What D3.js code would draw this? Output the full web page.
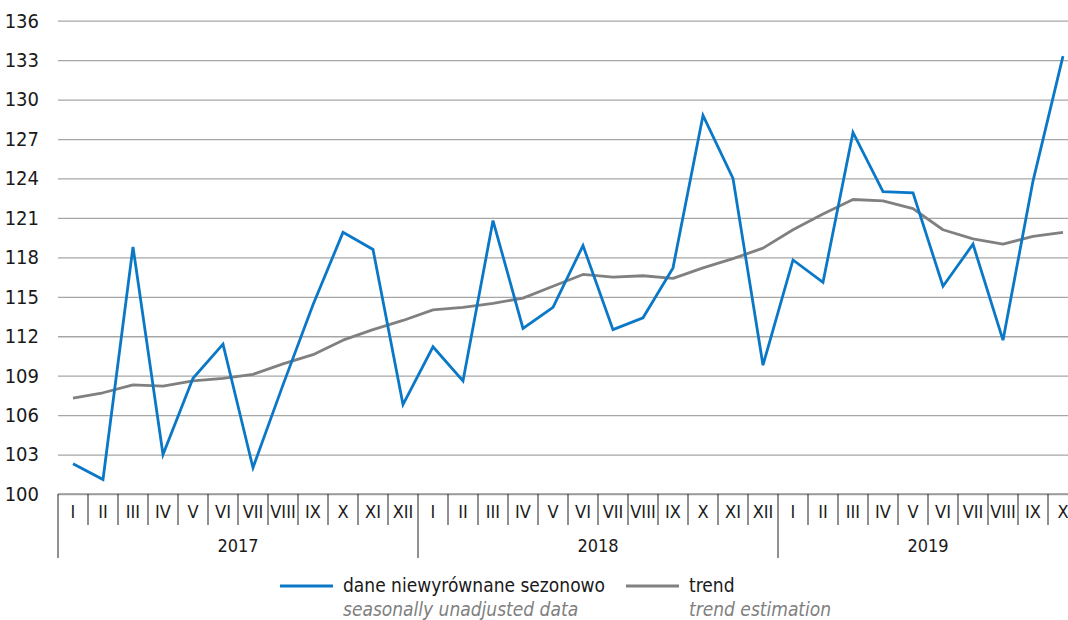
<!DOCTYPE html>
<html lang="pl">
<head>
<meta charset="utf-8">
<title>dane niewyrównane sezonowo / trend</title>
<script src="https://d3js.org/d3.v7.min.js"></script>
<style>
  body { margin: 0; background: #fff; }
  text { font-family: "Liberation Sans Narrow", "DejaVu Sans Condensed", "Liberation Sans", sans-serif; fill: #1a1a1a; }
  .grid line { stroke: #a6a6a6; stroke-width: 1.3; }
  .grid .domain { display: none; }
  .legend-en { fill: #808080; font-style: italic; }
</style>
</head>
<body>
<div id="chart"></div>
<script>

var years = ["2017", "2018", "2019"];
var months = ["I", "II", "III", "IV", "V", "VI", "VII", "VIII", "IX", "X", "XI", "XII"];
var monthsPerYear = [12, 12, 10];
var yTicks = [100, 103, 106, 109, 112, 115, 118, 121, 124, 127, 130, 133, 136];

// dane niewyrównane sezonowo (seasonally unadjusted data)
var unadjusted = [102.3, 101.1, 118.8, 103.0, 108.8, 111.4, 102.0, 108.3, 114.4, 119.9, 118.6, 106.8,
                  111.2, 108.6, 120.8, 112.6, 114.2, 118.9, 112.5, 113.4, 117.2, 128.8, 124.0, 109.8,
                  117.8, 116.1, 127.5, 123.0, 122.9, 115.8, 119.0, 111.7, 123.8, 133.3];
// trend
var trend = [107.3, 107.7, 108.3, 108.2, 108.6, 108.8, 109.1, 109.9, 110.6, 111.7, 112.5, 113.2,
             114.0, 114.2, 114.5, 114.9, 115.8, 116.7, 116.5, 116.6, 116.4, 117.2, 117.9, 118.7,
             120.1, 121.3, 122.4, 122.3, 121.7, 120.1, 119.4, 119.0, 119.6, 119.9];

var w = 1068, h = 620;
var left = 58, bandW = 30, base = 494, plotTop = 20.7;

// build category list (year, month) from the arrays above
var cats = [];
years.forEach(function(yr, j) {
  for (var m = 0; m < monthsPerYear[j]; m++) cats.push({ year: yr, month: months[m], idx: cats.length });
});

var svg = d3.select("#chart").append("svg")
  .attr("width", w)
  .attr("height", h);

var x = d3.scaleBand()
  .domain(cats.map(function(d) { return d.idx; }))
  .range([left, left + bandW * cats.length])
  .paddingInner(0).paddingOuter(0);

var y = d3.scaleLinear()
  .domain([100, 136])
  .range([base, plotTop]);

// gridlines + y labels
var grid = svg.append("g")
  .attr("class", "grid")
  .attr("transform", "translate(" + left + ",0)")
  .call(d3.axisLeft(y).tickValues(yTicks).tickSize(-(w - left)).tickPadding(19).tickFormat(d3.format("d")));
grid.selectAll("text").style("font-size", "20px").attr("fill", "#1a1a1a");

// bottom axis: month separators, year separators
var axis = svg.append("g").attr("class", "xaxis");
axis.append("line")
  .attr("x1", left).attr("x2", w)
  .attr("y1", base).attr("y2", base)
  .attr("stroke", "#999").attr("stroke-width", 1.5);

axis.selectAll(".mtick")
  .data(cats)
  .enter().append("line")
  .attr("class", "mtick")
  .attr("x1", function(d) { return x(d.idx); })
  .attr("x2", function(d) { return x(d.idx); })
  .attr("y1", base)
  .attr("y2", function(d) { return d.month === "I" ? 558 : 525; })
  .attr("stroke", "#222").attr("stroke-width", 1);

axis.selectAll(".mlabel")
  .data(cats)
  .enter().append("text")
  .attr("class", "mlabel")
  .attr("x", function(d) { return x(d.idx) + x.bandwidth() / 2; })
  .attr("y", 518)
  .attr("text-anchor", "middle")
  .style("font-size", "18px")
  .text(function(d) { return d.month; });

var yearSpans = years.map(function(yr) {
  var c = cats.filter(function(d) { return d.year === yr; });
  return { year: yr, x0: x(c[0].idx), x1: x(c[c.length - 1].idx) + x.bandwidth() };
});
axis.selectAll(".ylabel")
  .data(yearSpans)
  .enter().append("text")
  .attr("class", "ylabel")
  .attr("x", function(d) { return (d.x0 + d.x1) / 2; })
  .attr("y", 552)
  .attr("text-anchor", "middle")
  .style("font-size", "18px")
  .text(function(d) { return d.year; });

// lines
var line = d3.line()
  .x(function(d, i) { return x(i) + x.bandwidth() / 2; })
  .y(function(d) { return y(d); });

svg.append("path")
  .datum(trend)
  .attr("fill", "none")
  .attr("stroke", "#808080")
  .attr("stroke-width", 2.8)
  .attr("stroke-linejoin", "round")
  .attr("d", line);

svg.append("path")
  .datum(unadjusted)
  .attr("fill", "none")
  .attr("stroke", "#0a78c6")
  .attr("stroke-width", 2.8)
  .attr("stroke-linejoin", "miter")
  .attr("d", line);

// legend
var legend = svg.append("g").attr("class", "legend");
var items = [
  { pl: "dane niewyrównane sezonowo", en: "seasonally unadjusted data", color: "#0a78c6", x: 280 },
  { pl: "trend", en: "trend estimation", color: "#808080", x: 626 }
];
var li = legend.selectAll("g").data(items).enter().append("g")
  .attr("transform", function(d) { return "translate(" + d.x + ",0)"; });
li.append("line")
  .attr("x1", 0).attr("x2", 53)
  .attr("y1", 586).attr("y2", 586)
  .attr("stroke", function(d) { return d.color; })
  .attr("stroke-width", 2.8);
li.append("text")
  .attr("x", 63).attr("y", 592)
  .style("font-size", "19px")
  .text(function(d) { return d.pl; });
li.append("text")
  .attr("class", "legend-en")
  .attr("x", 63).attr("y", 616)
  .style("font-size", "19px")
  .text(function(d) { return d.en; });

</script>
</body>
</html>
